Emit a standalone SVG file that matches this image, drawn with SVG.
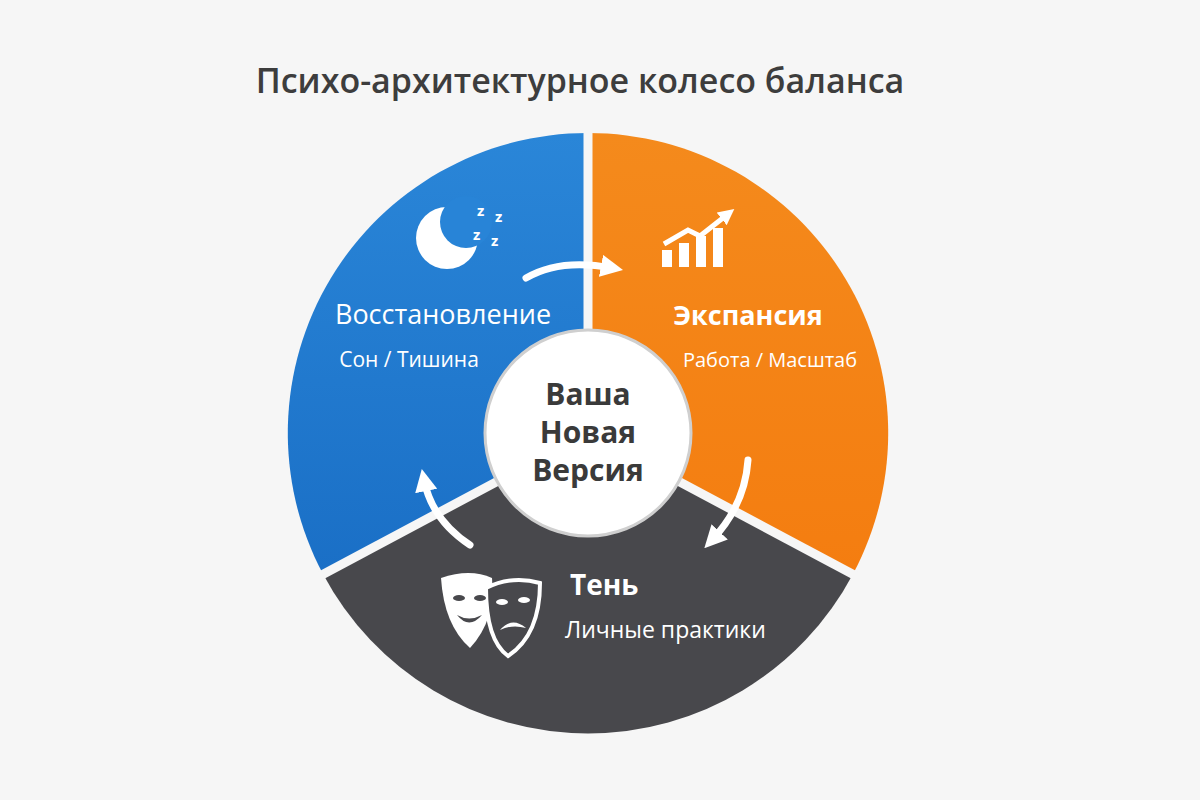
<svg xmlns="http://www.w3.org/2000/svg" width="1200" height="800" viewBox="0 0 1200 800">
<defs>
<style>
.t{font-family:"Open Sans","Liberation Sans",sans-serif;fill:#fff}
.w{fill:none;stroke:#fff;stroke-width:7;stroke-linecap:round}
</style>
<linearGradient id="gb" x1="0" y1="0" x2="0" y2="1"><stop offset="0" stop-color="#2a86d8"/><stop offset="1" stop-color="#1a6fc6"/></linearGradient>
<linearGradient id="go" x1="0" y1="0" x2="0" y2="1"><stop offset="0" stop-color="#f48a1c"/><stop offset="1" stop-color="#f47d10"/></linearGradient>
<marker id="ah" viewBox="0 0 10 10" refX="5" refY="5" markerWidth="3.2" markerHeight="3.2" orient="auto"><path d="M0,0 L10,5 L0,10 z" fill="#fff"/></marker>
</defs>
<rect width="1200" height="800" fill="#f6f6f6"/>
<text x="580" y="93" text-anchor="middle" font-family="Open Sans,Liberation Sans,sans-serif" font-size="34" font-weight="600" fill="#3d3d3d">Психо-архитектурное колесо баланса</text>
<g id="blue"><path d="M588,433 L588,133 A300,300 0 0 0 323,574 Z" fill="url(#gb)"/></g>
<g id="orange"><path d="M588,433 L588,133 A300,300 0 0 1 853,574 Z" fill="url(#go)"/></g>
<g id="dark"><path d="M588,433 L853,574 A300,300 0 0 1 323,574 Z" fill="#48484c"/></g>
<g stroke="#f6f6f6" stroke-width="9"><line x1="588" y1="433" x2="588" y2="128"/><line x1="588" y1="433" x2="858" y2="577"/><line x1="588" y1="433" x2="318" y2="577"/></g>
<g id="center"><circle cx="588" cy="433" r="103" fill="#fff" stroke="#cfcfcf" stroke-width="3"/>
<text x="588" y="405" text-anchor="middle" font-family="Open Sans,Liberation Sans,sans-serif" font-size="30" font-weight="700" fill="#3a3a3a">Ваша</text>
<text x="588" y="443" text-anchor="middle" font-family="Open Sans,Liberation Sans,sans-serif" font-size="30" font-weight="700" fill="#3a3a3a">Новая</text>
<text x="588" y="481" text-anchor="middle" font-family="Open Sans,Liberation Sans,sans-serif" font-size="30" font-weight="700" fill="#3a3a3a">Версия</text></g>
<g id="lbl-blue"><text class="t" x="443" y="324" text-anchor="middle" font-size="27">Восстановление</text><text class="t" x="409" y="367" text-anchor="middle" font-size="21">Сон / Тишина</text>
<circle cx="447" cy="238" r="31" fill="#fff"/><circle cx="466" cy="222" r="26" fill="#2884d7"/>
<text class="t" x="477" y="216" font-size="15" font-weight="700">z</text><text class="t" x="495" y="222" font-size="15" font-weight="700">z</text><text class="t" x="473" y="240" font-size="15" font-weight="700">z</text><text class="t" x="491" y="246" font-size="15" font-weight="700">z</text></g>
<g id="lbl-orange"><text class="t" x="748" y="325" text-anchor="middle" font-size="27" font-weight="700">Экспансия</text><text class="t" x="770" y="367" text-anchor="middle" font-size="20">Работа / Масштаб</text>
<g fill="#fff"><rect x="662" y="250" width="10" height="17"/><rect x="679" y="243" width="10" height="24"/><rect x="696" y="236" width="10" height="31"/><rect x="713" y="228" width="10" height="39"/></g>
<path d="M664,244 L688,230 L700,236 L728,214" fill="none" stroke="#fff" stroke-width="5" marker-end="url(#ah)"/></g>
<g id="lbl-dark"><text class="t" x="570" y="595" font-size="28" font-weight="700">Тень</text><text class="t" x="565" y="638" font-size="23">Личные практики</text>
<path d="M441,578 Q470,568 492,578 Q496,620 470,648 Q444,625 441,578 Z" fill="#fff"/>
<path d="M486,588 Q512,575 540,583 Q540,635 508,656 Q486,640 486,588 Z" fill="#48484c" stroke="#fff" stroke-width="4"/>
<g fill="#48484c"><ellipse cx="459" cy="598" rx="6" ry="3"/><ellipse cx="480" cy="598" rx="6" ry="3"/><path d="M457,615 Q469,630 482,615 Q469,622 457,615 Z"/></g>
<g fill="#fff"><ellipse cx="502" cy="602" rx="6" ry="3"/><ellipse cx="524" cy="600" rx="6" ry="3"/><path d="M500,630 Q512,616 526,628 Q512,624 500,630 Z"/></g></g>
<g id="connectors">
<path class="w" d="M526,278 Q560,258 612,268" marker-end="url(#ah)"/>
<path class="w" d="M748,460 Q745,505 712,540" marker-end="url(#ah)"/>
<path class="w" d="M470,545 Q432,520 424,480" marker-end="url(#ah)"/>
</g>
</svg>
